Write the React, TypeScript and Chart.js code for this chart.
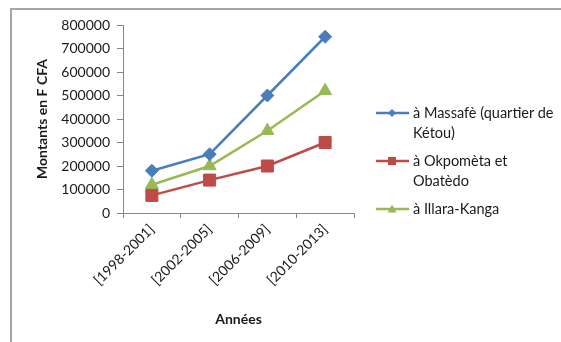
import React, { useEffect, useRef } from "react";
import { Chart, registerables } from "chart.js";

Chart.register(...registerables);

const categories = ["[1998-2001]", "[2002-2005]", "[2006-2009]", "[2010-2013]"];
const massafe = [180000, 250000, 500000, 750000];
const okpometa = [75000, 140000, 200000, 300000];
const illara = [120000, 200000, 350000, 520000];
const seriesLines = [
  ["à Massafè (quartier de", "Kétou)"],
  ["à Okpomèta et", "Obatèdo"],
  ["à Illara-Kanga"],
];
const colors = ["#4a7ebb", "#be4b48", "#98b954"];
const yTitle = "Montants en F CFA";
const xTitle = "Années";

const FONT = "Lato, 'Open Sans', sans-serif";

function Marker({ i }: { i: number }) {
  const c = colors[i];
  let shape: React.ReactNode = null;
  if (i === 0) shape = <polygon points="17,6 21,10 17,14 13,10" fill={c} />;
  if (i === 1) shape = <rect x={13} y={6} width={8} height={8} fill={c} />;
  if (i === 2) shape = <polygon points="17,5.5 21.5,13.5 12.5,13.5" fill={c} />;
  return (
    <svg width={36} height={20} style={{ flex: "none" }}>
      <line x1={1} y1={10} x2={34} y2={10} stroke={c} strokeWidth={2.5} />
      {shape}
    </svg>
  );
}

export default function App() {
  const ref = useRef<HTMLCanvasElement | null>(null);
  useEffect(() => {
    if (!ref.current) return;
    const tickFont = { family: FONT, size: 14 };
    const titleFont = { family: FONT, size: 14, weight: "bold" as const };
    const data = [massafe, okpometa, illara];
    const styles = ["rectRot", "rect", "triangle"];
    const radii = [6.5, 8.5, 7.5];
    const chart = new Chart(ref.current, {
      type: "line",
      data: {
        labels: categories,
        datasets: data.map((d, i) => ({
          label: seriesLines[i].join(" "),
          data: d,
          borderColor: colors[i],
          backgroundColor: colors[i],
          borderWidth: 2.5,
          pointStyle: styles[i] as any,
          pointRadius: radii[i],
          pointBorderWidth: 1,
          pointBackgroundColor: colors[i],
          pointBorderColor: colors[i],
          tension: 0,
        })),
      },
      options: {
        animation: false,
        responsive: false,
        maintainAspectRatio: false,
        layout: { padding: { left: 30, right: 207, top: 25, bottom: 10 } },
        plugins: { legend: { display: false }, tooltip: { enabled: false } },
        scales: {
          x: {
            offset: true,
            grid: { offset: true, drawOnChartArea: false, drawTicks: true, tickLength: 5, color: "#868686" },
            border: { color: "#868686", width: 1 },
            ticks: { minRotation: 45, maxRotation: 45, font: tickFont, color: "#1a1a1a", padding: 3 },
            title: { display: true, text: xTitle, font: titleFont, color: "#1a1a1a", padding: { top: 4, bottom: 4 } },
            afterFit: (s: any) => {
              s.height = 342 - 10 - 213;
            },
          },
          y: {
            min: 0,
            max: 800000,
            grid: { drawOnChartArea: false, drawTicks: true, tickLength: 6, color: "#868686" },
            border: { color: "#868686", width: 1 },
            ticks: {
              stepSize: 100000,
              font: tickFont,
              color: "#1a1a1a",
              padding: 7,
              callback: (v: any) => String(v),
            },
            title: { display: true, text: yTitle, font: titleFont, color: "#1a1a1a", padding: { top: 4, bottom: 4 } },
            afterFit: (s: any) => {
              s.width = 123 - 30;
            },
          },
        },
      },
    });
    return () => chart.destroy();
  }, []);

  return (
    <div style={{ position: "fixed", left: 0, top: 0, width: 561, height: 342, background: "#fff", overflow: "hidden" }}>
      <div
        style={{
          position: "absolute",
          left: 10,
          top: 8,
          width: 600,
          height: 400,
          borderLeft: "2px solid #a6a6a6",
          borderTop: "2px solid #a6a6a6",
        }}
      />
      <canvas ref={ref} width={561} height={342} style={{ position: "absolute", left: 0, top: 0 }} />
      <div style={{ position: "absolute", left: 375, top: 103, fontFamily: FONT, fontSize: 14.5, color: "#1a1a1a" }}>
        {seriesLines.map((lines, i) => (
          <div key={i} style={{ display: "flex", alignItems: "flex-start", marginBottom: 8 }}>
            <Marker i={i} />
            <div style={{ marginLeft: 2, lineHeight: "20px", whiteSpace: "nowrap" }}>
              {lines.map((l, j) => (
                <div key={j}>{l}</div>
              ))}
            </div>
          </div>
        ))}
      </div>
    </div>
  );
}
